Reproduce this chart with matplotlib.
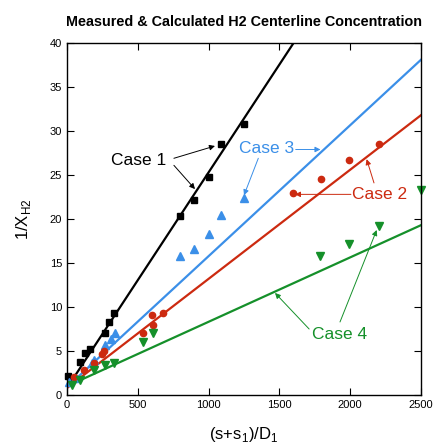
import matplotlib.pyplot as plt

plt.rcParams['font.family'] = ['Liberation Sans', 'DejaVu Sans']

# measured points
case1_x = [10, 90, 125, 160, 265, 300, 330, 800, 900, 1000, 1090, 1250]
case1_y = [2.2, 3.7, 4.8, 5.2, 7.0, 8.3, 9.3, 20.3, 22.2, 24.8, 28.5, 30.8]

case3_x = [12, 59, 175, 190, 270, 310, 340, 800, 900, 1000, 1090, 1250]
case3_y = [1.5, 1.9, 3.6, 4.0, 5.7, 6.4, 7.1, 15.8, 16.6, 18.3, 20.4, 22.4]

case2_x = [47, 120, 188, 250, 260, 540, 600, 610, 680, 1595, 1795, 1995, 2200]
case2_y = [2.1, 2.8, 3.6, 4.7, 5.0, 7.0, 9.1, 8.0, 9.3, 22.9, 24.5, 26.7, 28.5]

case4_x = [35, 94, 188, 271, 330, 540, 605, 1790, 1995, 2200, 2500]
case4_y = [1.1, 1.7, 2.8, 3.4, 3.6, 6.0, 7.1, 15.8, 17.2, 19.2, 23.3]

# calculated lines (end points)
line1_x = [0, 1600]
line1_y = [0.8, 40.0]
line3_x = [0, 2500]
line3_y = [0.9, 38.1]
line2_x = [0, 2500]
line2_y = [0.8, 31.8]
line4_x = [0, 2500]
line4_y = [1.0, 19.3]

black = 'black'
blue = '#3b8fe8'
red = '#cc2a10'
green = '#15902a'

fig = plt.figure(figsize=(4.33, 4.47), dpi=100)
ax = fig.add_axes([0.1547, 0.1163, 0.8176, 0.7875])

ax.plot(line1_x, line1_y, color=black, lw=1.6)
ax.plot(line3_x, line3_y, color=blue, lw=1.6)
ax.plot(line2_x, line2_y, color=red, lw=1.6)
ax.plot(line4_x, line4_y, color=green, lw=1.6)

ax.plot(case1_x, case1_y, 's', color=black, ms=4.5, clip_on=False)
ax.plot(case3_x, case3_y, '^', color=blue, ms=5.5, clip_on=False)
ax.plot(case2_x, case2_y, 'o', color=red, ms=4.5, clip_on=False)
ax.plot(case4_x, case4_y, 'v', color=green, ms=6, clip_on=False)

def arrow(txt_xy, tip_xy, col):
    ax.annotate('', xy=tip_xy, xytext=txt_xy,
                arrowprops=dict(arrowstyle='-|>', color=col, lw=0.7,
                                mutation_scale=8, shrinkA=0, shrinkB=0))

ax.text(508, 26.6, 'Case 1', color=black, fontsize=12.5, ha='center', va='center')
arrow((755, 26.9), (1045, 28.3), black)
arrow((755, 26.1), (904, 23.4), black)

ax.text(1410, 28.0, 'Case 3', color=blue, fontsize=12.5, ha='center', va='center')
arrow((1615, 27.9), (1790, 27.9), blue)
arrow((1351, 26.9), (1250, 22.7), blue)

ax.text(2206, 22.8, 'Case 2', color=red, fontsize=12.5, ha='center', va='center')
arrow((2005, 22.8), (1610, 22.8), red)
arrow((2168, 24.1), (2116, 26.8), red)

ax.text(1923, 6.9, 'Case 4', color=green, fontsize=12.5, ha='center', va='center')
arrow((1710, 7.5), (1469, 11.6), green)
arrow((1928, 8.3), (2187, 18.75), green)

ax.set_xlim(0, 2500)
ax.set_ylim(0, 40)
ax.set_xticks(range(0, 2501, 500))
ax.set_yticks(range(0, 41, 5))
ax.tick_params(direction='in', top=True, right=True, length=5, labelsize=8)
for s in ax.spines.values():
    s.set_linewidth(1.0)

ax.set_xlabel(r'(s+s$_{\mathregular{1}}$)/D$_{\mathregular{1}}$', fontsize=12, labelpad=11)
ax.set_ylabel(r'1/X$_{\mathregular{H2}}$', fontsize=12, labelpad=12)
ax.set_title('Measured & Calculated H2 Centerline Concentration',
             fontsize=10.4, fontweight='bold', pad=12)

plt.savefig('out.png', dpi=100)
